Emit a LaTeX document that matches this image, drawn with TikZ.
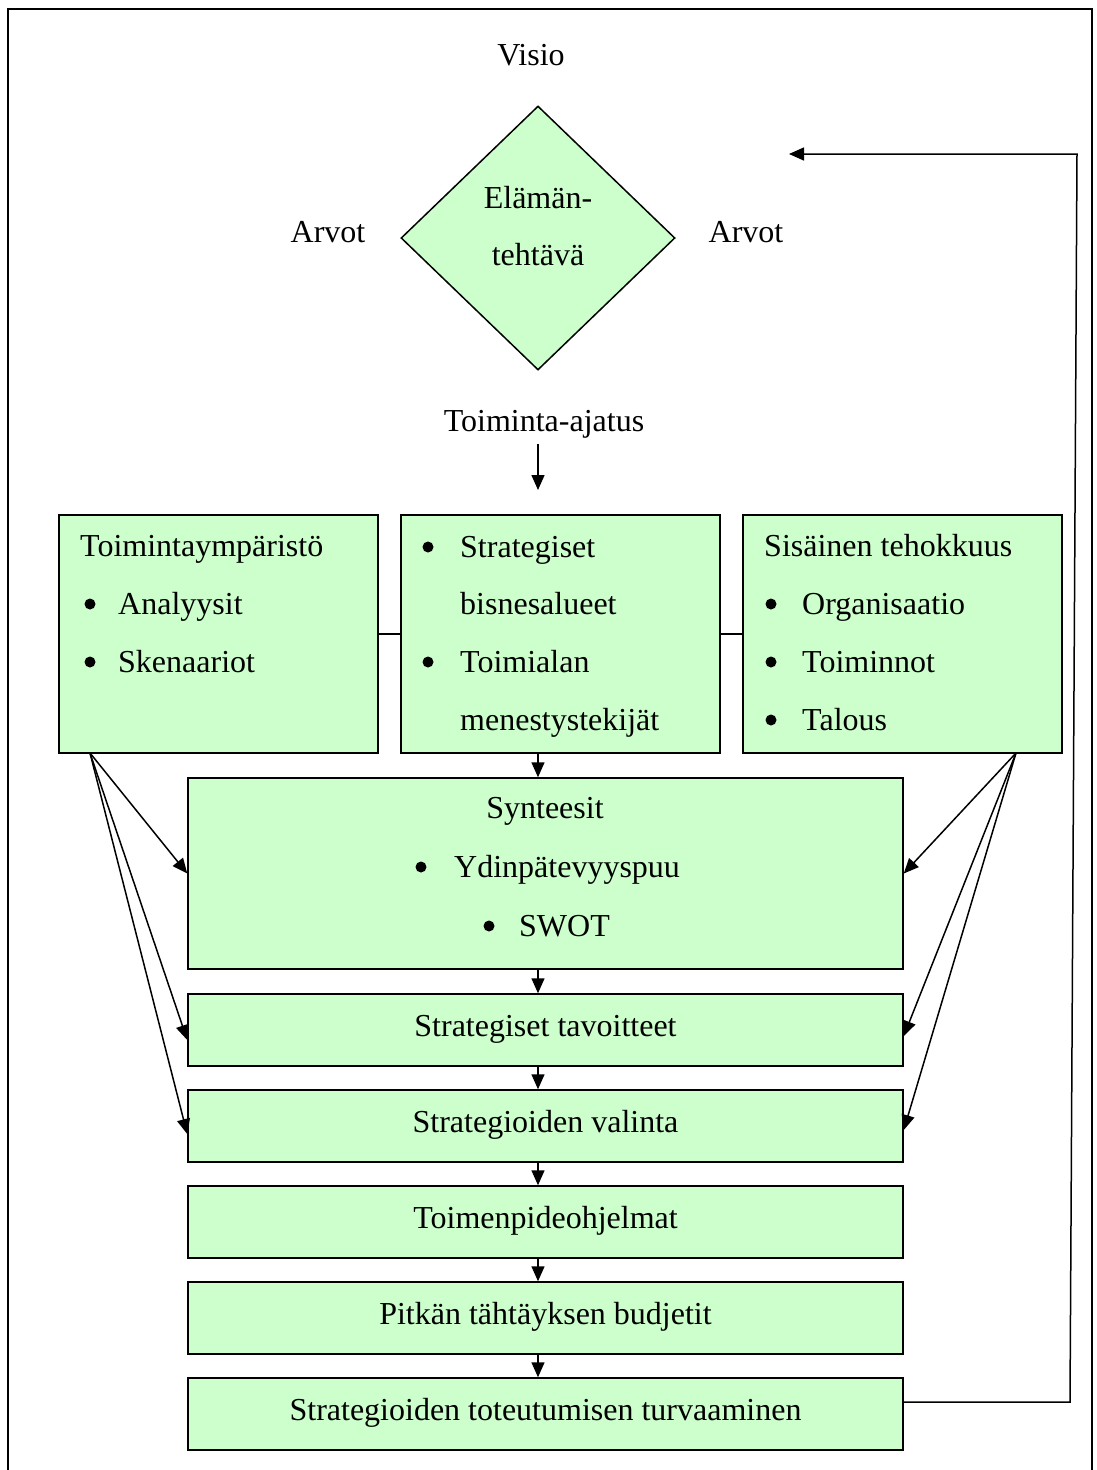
\documentclass[tikz,border=0pt]{standalone}
\usepackage{fontspec}
\setmainfont{Liberation Serif}
\usetikzlibrary{arrows.meta,calc,shapes.geometric}
\definecolor{boxgreen}{HTML}{CCFFCC}
\begin{document}
\begin{tikzpicture}[x=1pt,y=-1pt,
  every node/.style={font=\fontsize{32}{38}\selectfont},
  gbox/.style={draw=black,line width=1.5pt,fill=boxgreen,inner sep=0pt},
  sbox/.style={gbox,minimum width=715pt,minimum height=72pt,text height=21pt,text depth=9pt},
  txt/.style={inner sep=0pt,anchor=base west},
  bul/.style={circle,fill=black,inner sep=0pt,minimum size=11pt},
  lab/.style={inner sep=0pt},
  arr/.style={line width=1.5pt,-{Triangle[length=15pt,width=13pt]}},
  ln/.style={line width=1.5pt}]
\useasboundingbox (0,0) rectangle (1096,1470);
% outer frame
\draw[line width=2pt] (8,1480) -- (8,9) -- (1092,9) -- (1092,1480);
% top texts
\node[lab] (visio) at (531,55) {Visio};
\node[gbox,shape=diamond,minimum width=274pt,minimum height=264pt] (D) at (538,238) {};
\node[lab] (el1) at (538,198) {Elämän-};
\node[lab] (el2) at (538,255) {tehtävä};
\node[lab] (arvL) at (328,232) {Arvot};
\node[lab] (arvR) at (746,232) {Arvot};
\node[lab] (TA) at (544,424) {Toiminta-ajatus};
\coordinate (ax) at (538,0);
\coordinate (tastart) at (538,444);
\coordinate (taend) at (538,490);
\draw[arr] (tastart) -- (taend);
% three boxes
\node[gbox,minimum width=319pt,minimum height=238pt] (L) at (218.5,634) {};
\node[gbox,minimum width=319pt,minimum height=238pt] (M) at (560.5,634) {};
\node[gbox,minimum width=319pt,minimum height=238pt] (R) at (902.5,634) {};
\draw[ln] (L.east) -- (M.west);
\draw[ln] (M.east) -- (R.west);
% left box text
\node[txt] (lt) at (80,556) {Toimintaympäristö};
\node[bul] (lb1) at (90,604) {};
\node[txt] (l1) at (118,614) {Analyysit};
\node[bul] (lb2) at (90,662) {};
\node[txt] (l2) at (118,672) {Skenaariot};
% middle box text
\node[bul] (mb1) at (428,547) {};
\node[txt] (m1) at (460,557) {Strategiset};
\node[txt] (m2) at (460,614) {bisnesalueet};
\node[bul] (mb2) at (428,662) {};
\node[txt] (m3) at (460,672) {Toimialan};
\node[txt] (m4) at (460,730) {menestystekijät};
% right box text
\node[txt] (rt) at (764,556) {Sisäinen tehokkuus};
\node[bul] (rb1) at (771,604) {};
\node[txt] (r1) at (802,614) {Organisaatio};
\node[bul] (rb2) at (771,662) {};
\node[txt] (r2) at (802,672) {Toiminnot};
\node[bul] (rb3) at (771,720) {};
\node[txt] (r3) at (802,730) {Talous};
% stacked boxes
\node[gbox,minimum width=715pt,minimum height=191pt] (S) at (545.5,873.5) {};
\node[inner sep=0pt,anchor=base] (st) at (545,818) {Synteesit};
\node[bul] (sb1) at (421,867) {};
\node[txt] (s1) at (454,877) {Ydinpätevyyspuu};
\node[bul] (sb2) at (489,926) {};
\node[txt] (s2) at (519,936) {SWOT};
\node[sbox] (T) at (545.5,1030) {Strategiset tavoitteet};
\node[sbox] (V) at (545.5,1126) {Strategioiden valinta};
\node[sbox] (O) at (545.5,1222) {Toimenpideohjelmat};
\node[sbox] (P) at (545.5,1318) {Pitkän tähtäyksen budjetit};
\node[sbox] (Z) at (545.5,1414) {Strategioiden toteutumisen turvaaminen};
% vertical arrows
\draw[arr] (ax |- M.south) -- (ax |- S.north);
\draw[arr] (ax |- S.south) -- (ax |- T.north);
\draw[arr] (ax |- T.south) -- (ax |- V.north);
\draw[arr] (ax |- V.south) -- (ax |- O.north);
\draw[arr] (ax |- O.south) -- (ax |- P.north);
\draw[arr] (ax |- P.south) -- (ax |- Z.north);
% fan arrows
\coordinate (lf) at (90,753);
\coordinate (rf) at (1016,753);
\draw[arr] (lf) -- (S.west);
\draw[arr] (lf) -- ($(T.west)+(0,10)$);
\draw[arr] (lf) -- ($(V.west)+(0,8)$);
\draw[arr] (rf) -- (S.east);
\draw[arr] (rf) -- ($(T.east)+(0,6)$);
\draw[arr] (rf) -- ($(V.east)+(0,4)$);
% feedback loop
\coordinate (fb1) at (1070,1402);
\coordinate (fb2) at (1077,154);
\coordinate (fb3) at (789,154);
\draw[arr] ($(Z.east)+(0,-12)$) -- (fb1) -- (fb2) -- (fb3);
\end{tikzpicture}
\end{document}
